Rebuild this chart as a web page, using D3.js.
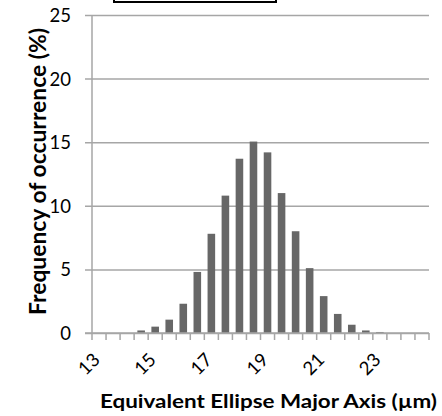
<!DOCTYPE html>
<html>
<head>
<meta charset="utf-8">
<script src="https://cdn.jsdelivr.net/npm/d3@7/dist/d3.min.js"></script>
<style>
  html, body { margin: 0; padding: 0; background: #fff; }
  svg { display: block; }
</style>
</head>
<body>
<svg id="chart" width="442" height="416"></svg>
<script>
// ---- data ----
const categories = ["13","13.5","14","14.5","15","15.5","16","16.5","17","17.5","18","18.5",
                    "19","19.5","20","20.5","21","21.5","22","22.5","23","23.5","24","24.5"];
const frequency = [0, 0, 0, 0.2, 0.5, 1.05, 2.3, 4.8, 7.8, 10.8, 13.7, 15.05,
                   14.2, 11.0, 8.0, 5.1, 2.9, 1.5, 0.65, 0.2, 0.08, 0, 0, 0];
const xTickLabels = ["13", "15", "17", "19", "21", "23"];
const yTicks = [0, 5, 10, 15, 20, 25];
const xTitle = "Equivalent Ellipse Major Axis (µm)";
const yTitle = "Frequency of occurrence (%)";

(function () {
// ---- layout ----
const svg = d3.select("#chart");
const pLeft = 92, pRight = 429, pTop = 15, pBottom = 333;
const font = "Lato, 'Open Sans', sans-serif";

const x = d3.scaleBand().domain(categories).range([pLeft, pRight]).padding(0);
const y = d3.scaleLinear().domain([0, 25]).range([pBottom, pTop]);

// cut-off legend box at top
svg.append("rect")
  .attr("x", 114).attr("y", -12).attr("width", 162).attr("height", 14)
  .attr("fill", "#fff").attr("stroke", "#000").attr("stroke-width", 2);

// gridlines + y axis
const yAxis = d3.axisLeft(y).tickValues(yTicks).tickSize(-(pRight - pLeft)).tickSizeOuter(0).tickPadding(0);
const gy = svg.append("g").attr("transform", `translate(${pLeft},0)`).call(yAxis);
gy.select(".domain").remove();
gy.selectAll(".tick line").attr("stroke", "#a6a6a6").attr("stroke-width", 1.5).attr("x1", -7);
gy.selectAll(".tick text")
  .attr("x", -21).attr("dy", "0.35em")
  .attr("fill", "#000").style("font-family", font).style("font-size", "18.5px");
// vertical axis line
svg.append("line").attr("x1", pLeft).attr("x2", pLeft).attr("y1", y(25)).attr("y2", y(0))
  .attr("stroke", "#a6a6a6").attr("stroke-width", 1.5);

// bars
const barFrac = 0.54;
svg.append("g").selectAll("rect").data(categories).join("rect")
  .attr("x", (d) => x(d) + x.bandwidth() * (1 - barFrac) / 2)
  .attr("width", x.bandwidth() * barFrac)
  .attr("y", (d, i) => y(frequency[i]))
  .attr("height", (d, i) => y(0) - y(frequency[i]))
  .attr("fill", "#676767");

// x axis line and boundary ticks
svg.append("line").attr("x1", pLeft - 7).attr("x2", pRight).attr("y1", pBottom).attr("y2", pBottom)
  .attr("stroke", "#a6a6a6").attr("stroke-width", 1.5);
const bounds = categories.map(c => x(c)).concat([x(categories[categories.length - 1]) + x.bandwidth()]);
svg.append("g").selectAll("line").data(bounds).join("line")
  .attr("x1", d => d).attr("x2", d => d).attr("y1", pBottom).attr("y2", pBottom + 7)
  .attr("stroke", "#a6a6a6").attr("stroke-width", 1.5);

// x tick labels (rotated)
svg.append("g").selectAll("text").data(xTickLabels).join("text")
  .attr("transform", d => `translate(${x(d) + x.bandwidth() / 2 + 2},${pBottom + 28}) rotate(-45)`)
  .attr("text-anchor", "end")
  .attr("fill", "#000").style("font-family", font).style("font-size", "18.5px")
  .text(d => d);

// axis titles
svg.append("text")
  .attr("x", 100).attr("y", 407.5)
  .attr("fill", "#000").style("font-family", font).style("font-weight", "bold").style("font-size", "19.5px")
  .attr("textLength", 337).attr("lengthAdjust", "spacingAndGlyphs")
  .text(xTitle);

svg.append("text")
  .attr("transform", `translate(45.5,171.5) rotate(-90)`)
  .attr("text-anchor", "middle")
  .attr("fill", "#000").style("font-family", font).style("font-weight", "bold").style("font-size", "22px")
  .attr("textLength", 287).attr("lengthAdjust", "spacingAndGlyphs")
  .text(yTitle);
})();
</script>
</body>
</html>
